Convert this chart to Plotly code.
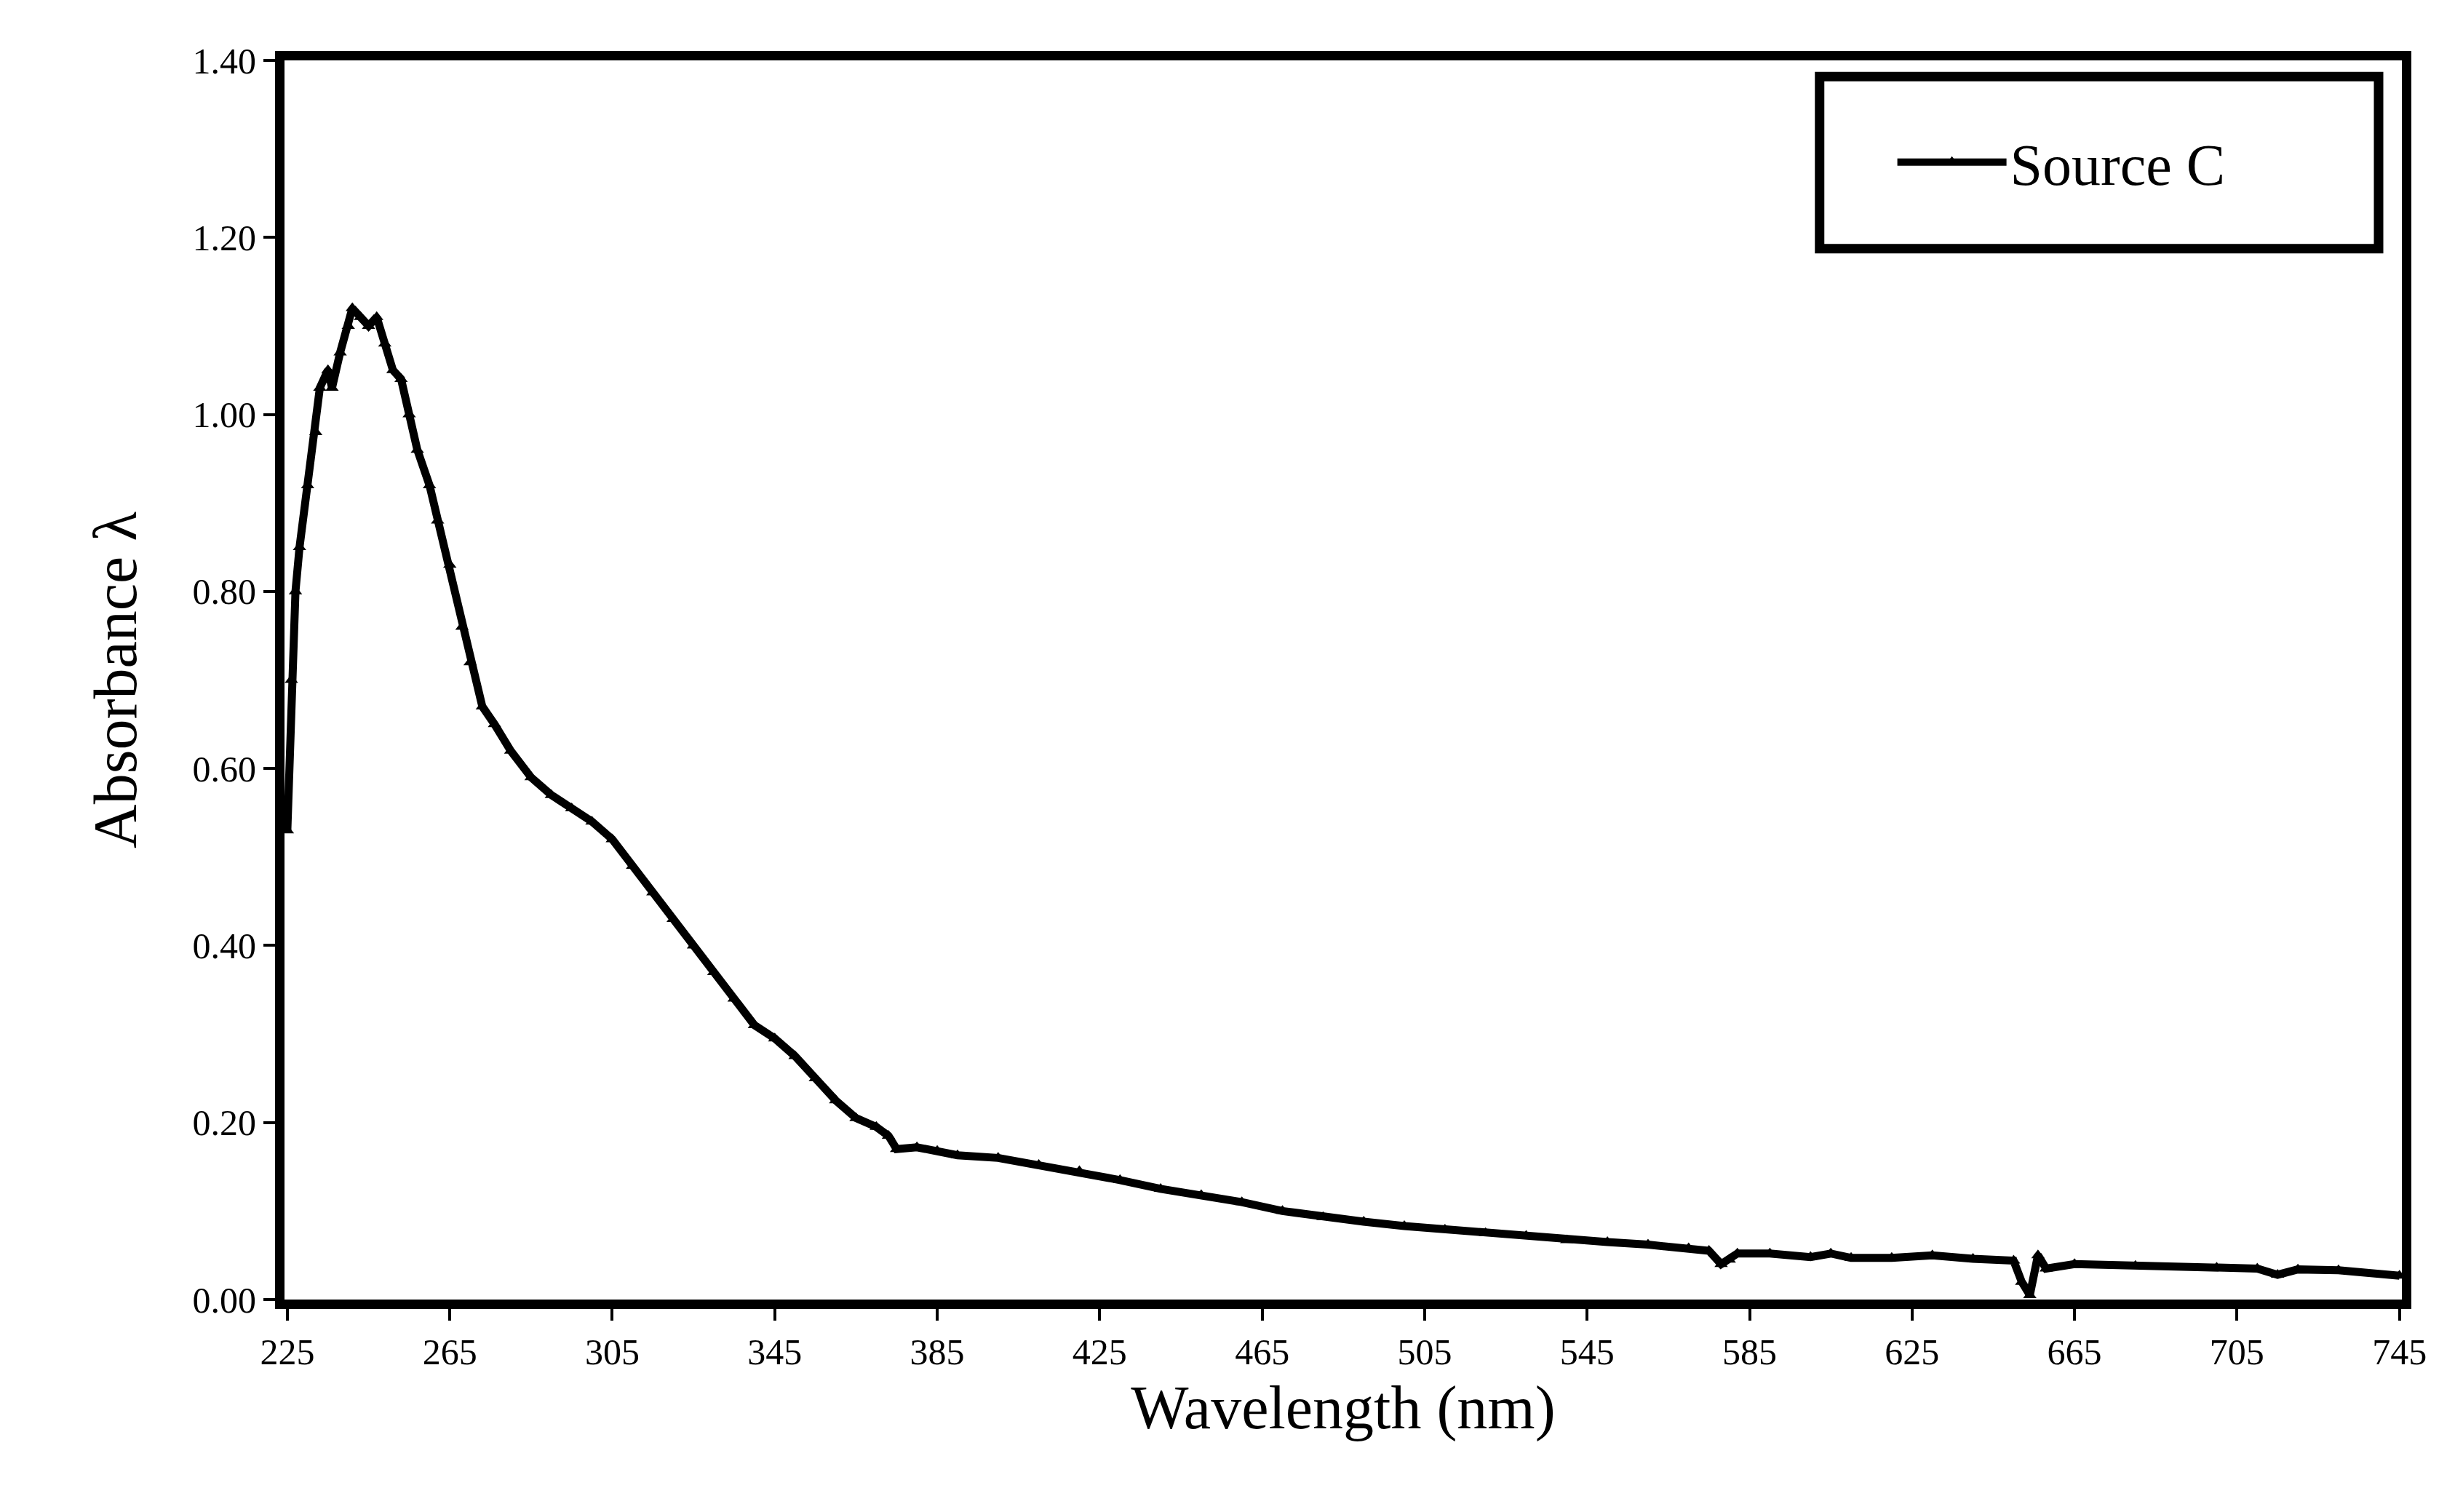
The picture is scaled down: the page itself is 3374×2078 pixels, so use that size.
import plotly.graph_objects as go

wavelength = [225,226,227,228,230,232,233,235,236,238,240,241,243,245,247,249,251,253,255,257,260,262,265,268,270,273,276,280,285,290,295,300,305,310,315,320,325,330,335,340,345,350,355,360,365,370,373,375,380,385,390,400,410,420,430,440,450,460,470,480,490,500,510,520,530,540,550,560,570,575,578,580,582,590,600,605,610,620,630,640,650,652,654,656,658,665,680,700,710,715,720,730,745]
absorbance = [0.53,0.70,0.80,0.85,0.92,0.98,1.03,1.05,1.03,1.07,1.10,1.12,1.11,1.10,1.11,1.08,1.05,1.04,1.00,0.96,0.92,0.88,0.83,0.76,0.72,0.67,0.65,0.62,0.59,0.57,0.555,0.54,0.52,0.49,0.46,0.43,0.40,0.37,0.34,0.31,0.295,0.275,0.25,0.225,0.205,0.195,0.185,0.17,0.172,0.168,0.163,0.16,0.152,0.145,0.135,0.125,0.118,0.11,0.10,0.093,0.088,0.083,0.079,0.075,0.072,0.067,0.065,0.062,0.058,0.055,0.04,0.045,0.052,0.052,0.048,0.052,0.047,0.047,0.05,0.046,0.044,0.02,0.005,0.05,0.035,0.04,0.038,0.036,0.035,0.028,0.034,0.033,0.027]
x_ticks = [225,265,305,345,385,425,465,505,545,585,625,665,705,745]
y_ticks = [0.0,0.2,0.4,0.6,0.8,1.0,1.2,1.4]

font = "Liberation Serif"
fig = go.Figure(go.Scatter(
    x=wavelength, y=absorbance, mode="lines+markers", name="Source C",
    line=dict(color="black", width=11),
    marker=dict(symbol="triangle-up", size=16, color="black")))

fig.add_shape(type="rect", xref="paper", yref="paper", x0=0.725, x1=0.989, y0=0.848, y1=0.987,
              line=dict(color="black", width=13), fillcolor="rgba(0,0,0,0)")

fig.update_layout(
    width=3374, height=2078, paper_bgcolor="white", plot_bgcolor="white",
    margin=dict(l=383, r=81, t=75, b=300),
    font=dict(family=font, color="black", size=50),
    showlegend=True,
    legend=dict(x=0.76, y=0.918, xanchor="left", yanchor="middle",
                borderwidth=0, bgcolor="rgba(0,0,0,0)",
                font=dict(size=80, family=font), itemwidth=150),
)
fig.update_xaxes(range=[224.3, 745.6], tickvals=x_ticks, ticktext=[str(v) for v in x_ticks],
                 showgrid=False, zeroline=False, showline=True, linecolor="black", linewidth=13,
                 mirror=True, ticks="outside", ticklen=16, tickwidth=4, tickcolor="black",
                 title=dict(text="Wavelength (nm)", font=dict(size=84, family=font), standoff=25))
fig.update_yaxes(range=[0, 1.4], tickvals=y_ticks, ticktext=[f"{v:.2f}" for v in y_ticks],
                 showgrid=False, zeroline=False, showline=True, linecolor="black", linewidth=13,
                 mirror=True, ticks="outside", ticklen=16, tickwidth=4, tickcolor="black",
                 title=dict(text="Absorbance λ", font=dict(size=84, family=font), standoff=55))
fig.write_html("out.html")
